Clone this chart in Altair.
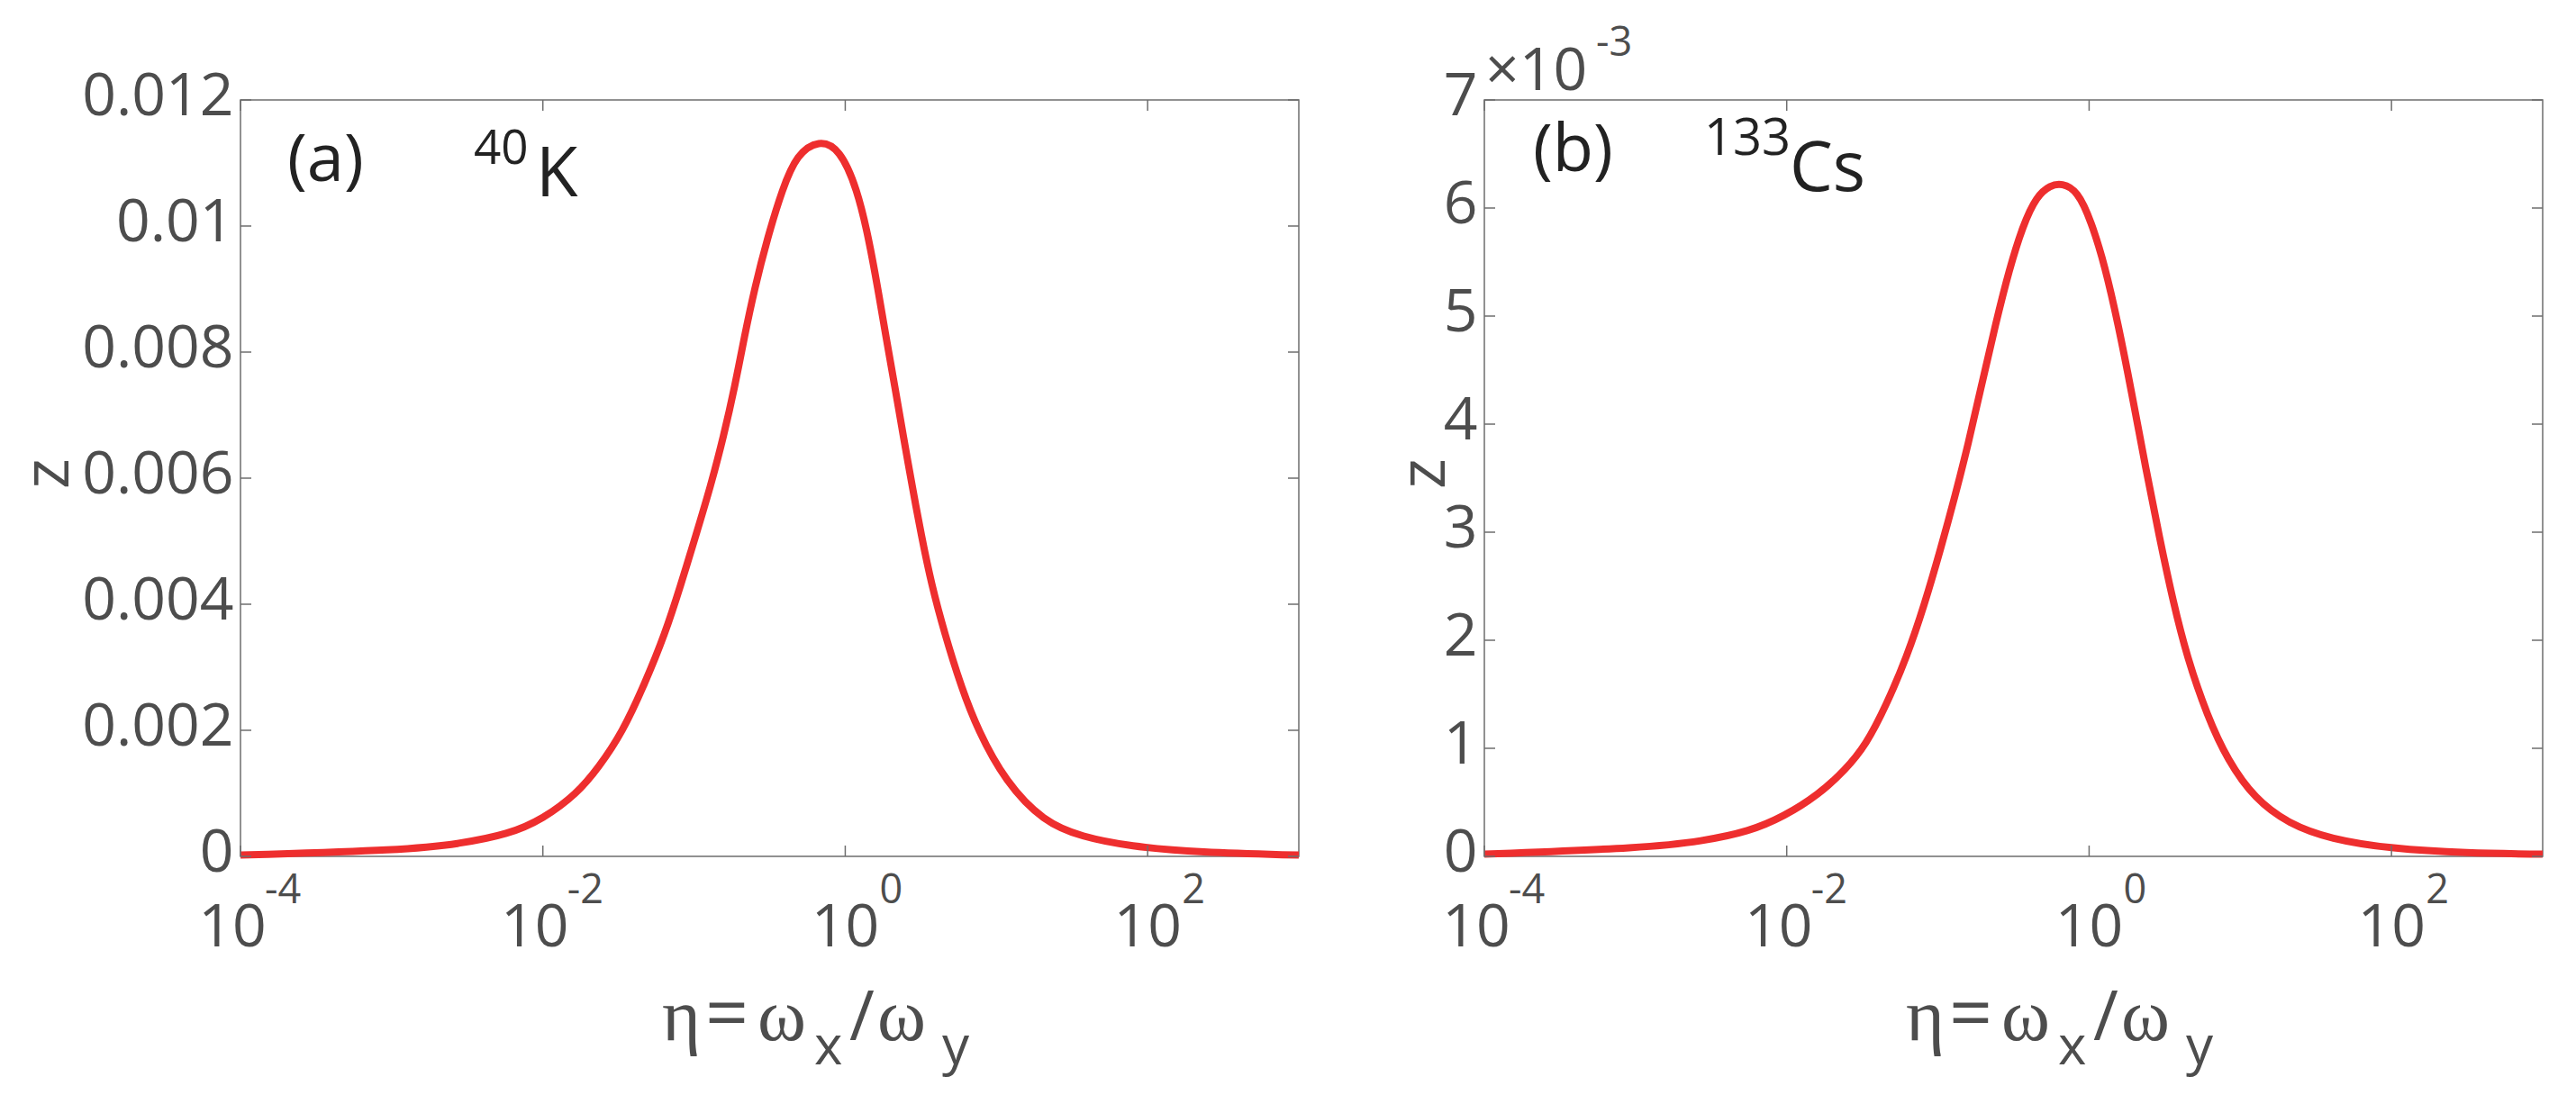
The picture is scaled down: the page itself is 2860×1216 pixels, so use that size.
import altair as alt
import pandas as pd

# ---------------- data ----------------
# panel (a): 40K
eta_k = [1.0e-4, 1.22e-3, 2.83e-3, 5.92e-3, 1.0e-2, 1.69e-2, 2.32e-2, 3.35e-2, 4.74e-2,
         6.43e-2, 8.18e-2, 0.103, 0.129, 0.157, 0.186, 0.215, 0.252, 0.305, 0.384,
         0.479, 0.670, 0.918, 1.20, 1.43, 1.64, 1.86, 2.13, 2.42, 2.77, 3.18, 3.72,
         4.55, 5.79, 7.53, 11.5, 20.5, 36.5, 76.0, 218.0, 1000.0]
z_k = [0.00002, 0.0001, 0.0002, 0.00035, 0.00059, 0.0010, 0.00140, 0.00196, 0.00275,
       0.00353, 0.00431, 0.0051, 0.00588, 0.00667, 0.00745, 0.00824, 0.00902, 0.0098,
       0.01059, 0.01114, 0.01137, 0.01123, 0.01059, 0.0098, 0.00902, 0.00824, 0.00745,
       0.00667, 0.00588, 0.0051, 0.00431, 0.00353, 0.00272, 0.00200, 0.00118, 0.00055,
       0.00031, 0.00016, 0.00006, 0.00002]

# panel (b): 133Cs, z in units of 1e-3
eta_cs = [1.0e-4, 1.19e-3, 2.75e-3, 5.65e-3, 9.6e-3, 1.62e-2, 2.44e-2, 3.34e-2, 4.56e-2,
          6.24e-2, 8.07e-2, 0.105, 0.129, 0.159, 0.195, 0.240, 0.296, 0.365, 0.449,
          0.553, 0.661, 0.838, 1.03, 1.27, 1.56, 1.92, 2.37, 2.92, 3.59, 4.43, 6.04,
          8.24, 12.5, 21.0, 39.3, 99.8, 313.0, 1000.0]
z_cs = [0.02, 0.08, 0.14, 0.23, 0.37, 0.57, 0.80, 1.03, 1.40, 1.85, 2.31, 2.86, 3.32,
        3.82, 4.37, 4.92, 5.43, 5.84, 6.11, 6.21, 6.23, 6.16, 5.88, 5.47, 4.92, 4.28,
        3.59, 2.95, 2.36, 1.85, 1.30, 0.89, 0.53, 0.30, 0.16, 0.07, 0.03, 0.02]

x_ticks = [1e-4, 1e-2, 1e0, 1e2]
x_exps = ["-4", "-2", "0", "2"]
x_domain = [1e-4, 1e3]

y_ticks_k = [0, 0.002, 0.004, 0.006, 0.008, 0.010, 0.012]
y_domain_k = [0, 0.012]
y_ticks_cs = [0, 1, 2, 3, 4, 5, 6, 7]
y_domain_cs = [0, 7]

# ---------------- styling ----------------
W, H = 1175, 840
FONT = "Open Sans"
SERIF = "Liberation Serif"
LABEL = "#4d4d4d"
DARK = "#222222"
FRAME = "#6e6e6e"
RED = "#ee2e2e"
TICK = 12


def txt(df, text, x, y, size, color=LABEL, font=FONT, align="left", baseline="alphabetic", angle=0):
    return alt.Chart(df).mark_text(
        text=text, font=font, fontSize=size, color=color, align=align,
        baseline=baseline, angle=angle
    ).encode(x=alt.value(x), y=alt.value(y))


def panel(eta, z, yticks, ydomain, yfmt, letter, mass, sym, ann, zx, extra=None):
    xs = alt.Scale(type="log", domain=x_domain, nice=False)
    ys = alt.Scale(domain=ydomain, nice=False, zero=False)
    yaxis = alt.Axis(values=yticks, format=yfmt, title=None, ticks=False, domain=False,
                     grid=False, labelFont=FONT, labelFontSize=66, labelColor=LABEL,
                     labelPadding=8, labelFlush=False, labelOverlap=False,
                     labelBaseline="middle", labelOffset=-4)
    one = pd.DataFrame({"k": [0]})
    curve = pd.DataFrame({"eta": eta, "z": z})
    yt = pd.DataFrame({"z": yticks})
    xt = pd.DataFrame({"eta": x_ticks, "e": x_exps})

    X = alt.X("eta:Q", scale=xs, axis=None)
    Y = alt.Y("z:Q", scale=ys, axis=yaxis)

    line = alt.Chart(curve).mark_line(color=RED, strokeWidth=8, interpolate="basis").encode(x=X, y=Y)

    rule = dict(color=FRAME, strokeWidth=1.5)
    lt = alt.Chart(yt).mark_rule(**rule).encode(y=Y, x=alt.value(0), x2=alt.value(TICK))
    rt = alt.Chart(yt).mark_rule(**rule).encode(y=Y, x=alt.value(W - TICK), x2=alt.value(W))
    bt = alt.Chart(xt).mark_rule(**rule).encode(x=X, y=alt.value(H - TICK), y2=alt.value(H))
    tt = alt.Chart(xt).mark_rule(**rule).encode(x=X, y=alt.value(0), y2=alt.value(TICK))

    neg = alt.datum.eta < 1
    pos = alt.datum.eta >= 1
    b_neg = alt.Chart(xt).transform_filter(neg).mark_text(
        text="10", font=FONT, fontSize=66, color=LABEL, align="center", baseline="alphabetic", dx=-9
    ).encode(x=X, y=alt.value(H + 100))
    b_pos = alt.Chart(xt).transform_filter(pos).mark_text(
        text="10", font=FONT, fontSize=66, color=LABEL, align="center", baseline="alphabetic", dx=0
    ).encode(x=X, y=alt.value(H + 100))
    e_neg = alt.Chart(xt).transform_filter(neg).mark_text(
        font=FONT, fontSize=45, color=LABEL, align="left", baseline="alphabetic", dx=27
    ).encode(x=X, y=alt.value(H + 52), text="e:N")
    e_pos = alt.Chart(xt).transform_filter(pos).mark_text(
        font=FONT, fontSize=45, color=LABEL, align="left", baseline="alphabetic", dx=38
    ).encode(x=X, y=alt.value(H + 52), text="e:N")

    # annotations
    (lx, lb), (mx, mb, msz), (sx, sb) = ann
    a1 = txt(one, letter, lx, lb, 74, DARK)
    a2 = txt(one, mass, mx, mb, msz, DARK)
    a3 = txt(one, sym, sx, sb, 76, DARK)

    # y title (rotated, baseline on the right side of the glyph)
    yt_title = txt(one, "z", zx, H / 2 - 5, 72, LABEL, align="center", baseline="alphabetic", angle=270)

    # x title pieces
    xb, xs_b = 1044, 1071
    pieces = [
        txt(one, "η", 468, xb, 82, LABEL, SERIF),
        txt(one, "=", 516, xb, 84, LABEL),
        txt(one, "ω", 574, xb, 82, LABEL, SERIF),
        txt(one, "x", 637, xs_b, 60, LABEL),
        txt(one, "/", 676, xb, 76, LABEL),
        txt(one, "ω", 707, xb, 82, LABEL, SERIF),
        txt(one, "y", 779, xs_b, 60, LABEL),
    ]

    layers = [line, lt, rt, bt, tt, b_neg, b_pos, e_neg, e_pos, a1, a2, a3, yt_title] + pieces
    if extra:
        layers += extra(one)
    return alt.layer(*layers).properties(width=W, height=H)


def multiplier(one):
    return [txt(one, "×10", 1, -11, 66, LABEL), txt(one, "-3", 124, -49, 45, LABEL)]


pa = panel(eta_k, z_k, y_ticks_k, y_domain_k, "~g", "(a)", "40", "K",
           ((52, 90), (259, 71, 53), (328, 107)), -191)
pb = panel(eta_cs, z_cs, y_ticks_cs, y_domain_cs, "d", "(b)", "133", "Cs",
           ((54, 79), (244, 61, 56), (339, 101)), -44, extra=multiplier)

chart = alt.hconcat(pa, pb, spacing=206, bounds="flush").properties(
    padding={"left": 17, "top": 25, "right": 20, "bottom": 10},
    background="white",
).configure_view(stroke=FRAME, strokeWidth=1.5)

chart.save("out.html", embed_options={"renderer": "svg", "actions": False})
